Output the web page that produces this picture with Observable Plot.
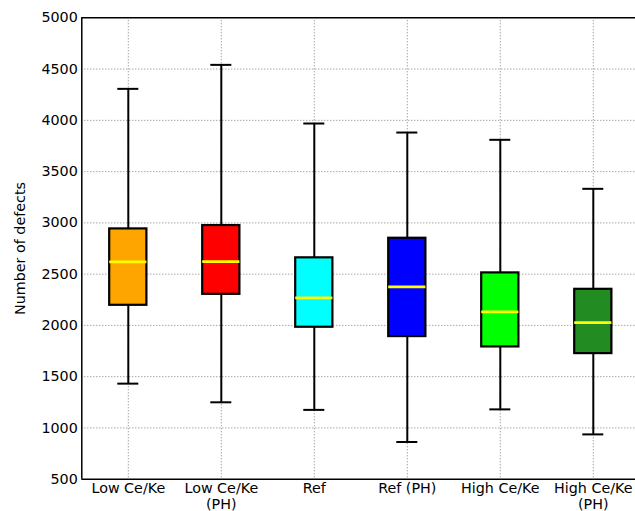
<!DOCTYPE html>
<html><head><meta charset="utf-8">
<script src="https://cdn.jsdelivr.net/npm/d3@7"></script>
<script src="https://cdn.jsdelivr.net/npm/@observablehq/plot@0.6"></script>
<style>body{margin:0;background:#fff;} svg{display:block;}</style>
</head><body><div id="chart"></div>
<script>
const categories = ["Low Ce/Ke", "Low Ce/Ke\n(PH)", "Ref", "Ref (PH)", "High Ce/Ke", "High Ce/Ke\n(PH)"];
const colors = ["#FFA500", "#FF0000", "#00FFFF", "#0000FF", "#00FF00", "#228B22"];
const whiskerLow = [1432, 1250, 1176, 863, 1181, 937];
const q1 = [2196, 2303, 1982, 1891, 1790, 1725];
const median = [2620, 2622, 2268, 2376, 2132, 2027];
const q3 = [2941, 2974, 2659, 2850, 2512, 2352];
const whiskerHigh = [4307, 4541, 3969, 3881, 3810, 3332];
const yTicks = [500, 1000, 1500, 2000, 2500, 3000, 3500, 4000, 4500, 5000];

const data = categories.map((c, i) => ({
  pos: i + 1, cat: c, color: colors[i],
  lo: whiskerLow[i], q1: q1[i], med: median[i], q3: q3[i], hi: whiskerHigh[i]
}));
const hb = 0.2, hc = 0.113;
const font = "DejaVu Sans, sans-serif";
const fs = 14.3;

const chart = Plot.plot({
  width: 635, height: 511,
  marginTop: 17.3, marginBottom: 32.3, marginLeft: 81.3, marginRight: 0,
  style: {fontFamily: font, fontSize: fs + "px", color: "#000", background: "#fff"},
  x: {domain: [0.5, 6.5], range: [81.3, 639.3], axis: null},
  y: {domain: [500, 5000], range: [478.7, 17.3], axis: null},
  marks: [
    Plot.ruleY(yTicks.slice(1, -1), {stroke: "#000", strokeOpacity: 0.5, strokeDasharray: "1,2", strokeWidth: 1}),
    Plot.ruleX(data, {x: "pos", stroke: "#000", strokeOpacity: 0.5, strokeDasharray: "1,2", strokeWidth: 1}),
    Plot.ruleX(data, {x: "pos", y1: "q3", y2: "hi", stroke: "#000", strokeWidth: 2}),
    Plot.ruleX(data, {x: "pos", y1: "lo", y2: "q1", stroke: "#000", strokeWidth: 2}),
    Plot.ruleY(data, {y: "hi", x1: d => d.pos - hc, x2: d => d.pos + hc, stroke: "#000", strokeWidth: 2}),
    Plot.ruleY(data, {y: "lo", x1: d => d.pos - hc, x2: d => d.pos + hc, stroke: "#000", strokeWidth: 2}),
    Plot.rect(data, {x1: d => d.pos - hb, x2: d => d.pos + hb, y1: "q1", y2: "q3", fill: "color", stroke: "#000", strokeWidth: 2.2}),
    Plot.ruleY(data, {y: "med", x1: d => d.pos - hb, x2: d => d.pos + hb, stroke: "#FFFF00", strokeWidth: 2.6}),
    Plot.ruleY([500, 5000], {stroke: "#000", strokeWidth: 1.5}),
    Plot.ruleX([0.5], {stroke: "#000", strokeWidth: 1.5}),
    Plot.axisY({ticks: yTicks, tickFormat: d => String(d), tickSize: 0, tickPadding: 4, fontSize: fs, label: null, fill: "#000"}),
    Plot.text(data, {x: "pos", y: 500, text: "cat", lineAnchor: "top", dy: 2, lineHeight: 1.15, fontSize: fs, fill: "#000"}),
    Plot.text(["Number of defects"], {x: 0.5, y: 2750, text: d => d, rotate: -90, dx: -61, fontSize: fs, fill: "#000"})
  ]
});
document.getElementById("chart").appendChild(chart);
</script>
</body></html>
